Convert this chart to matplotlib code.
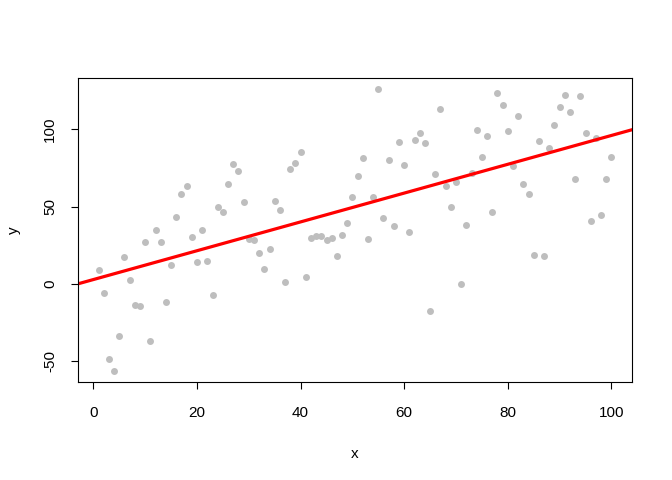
import numpy as np
import matplotlib
matplotlib.use("Agg")
import matplotlib.pyplot as plt

plt.rcParams['font.family'] = ['Liberation Sans', 'DejaVu Sans']

# points, x = 1..100
x = np.arange(1, 101)
y = [8.9, -6.0, -48.5, -56.0, -33.4, 17.3, 2.8, -13.8, -14.2, 27.0,
     -37.0, 34.7, 27.0, -11.7, 12.5, 43.4, 58.0, 63.2, 30.6, 14.0,
     35.0, 14.7, -6.9, 49.8, 46.4, 64.3, 77.5, 72.7, 53.0, 29.1,
     28.5, 19.8, 9.9, 22.7, 53.9, 47.9, 1.1, 74.4, 78.1, 85.0,
     4.5, 30.0, 31.3, 30.9, 28.3, 29.6, 18.3, 31.5, 39.5, 56.3,
     69.7, 81.4, 29.3, 55.9, 125.8, 42.7, 79.8, 37.5, 91.7, 76.8,
     33.9, 93.2, 97.5, 91.3, -17.7, 70.8, 113.3, 63.2, 49.8, 65.8,
     -0.2, 38.4, 71.4, 99.7, 82.0, 95.8, 46.6, 123.2, 115.4, 99.0,
     76.2, 108.3, 64.7, 58.0, 18.6, 92.3, 17.9, 87.8, 102.7, 114.4,
     122.3, 111.1, 67.8, 121.5, 97.5, 40.6, 94.5, 44.9, 67.8, 82.0]
y = np.array(y)

xticks = [0, 20, 40, 60, 80, 100]
yticks = [-50, 0, 50, 100]

fig = plt.figure(figsize=(6.72, 4.8), dpi=100)
ax = fig.add_axes([78/672, 1-382/480, (632-78)/672, (382-78)/480])

ax.plot(x, y, "o", color="#BEBEBE", markersize=5.0, markeredgewidth=0)

# least-squares line, like abline(lm(y ~ x))
slope, icept = np.polyfit(x, y, 1)
ax.axline((0, icept), slope=slope, color="red", linewidth=2.3)

# R default 4% padding
xr = x.max() - x.min()
yr = y.max() - y.min()
ax.set_xlim(x.min() - 0.04*xr, x.max() + 0.04*xr)
ax.set_ylim(y.min() - 0.04*yr, y.max() + 0.04*yr)

ax.set_xticks(xticks)
ax.set_yticks(yticks)
ax.set_yticklabels([str(v) for v in yticks], rotation=90, va="center")
ax.tick_params(direction="out", length=5, width=0.8, labelsize=11, pad=10)
ax.tick_params(axis="x", pad=12)
for s in ax.spines.values():
    s.set_linewidth(0.8)

ax.set_xlabel("x", fontsize=11, labelpad=20)
ax.set_ylabel("y", fontsize=11, labelpad=16)

fig.savefig("out.png", dpi=100)
